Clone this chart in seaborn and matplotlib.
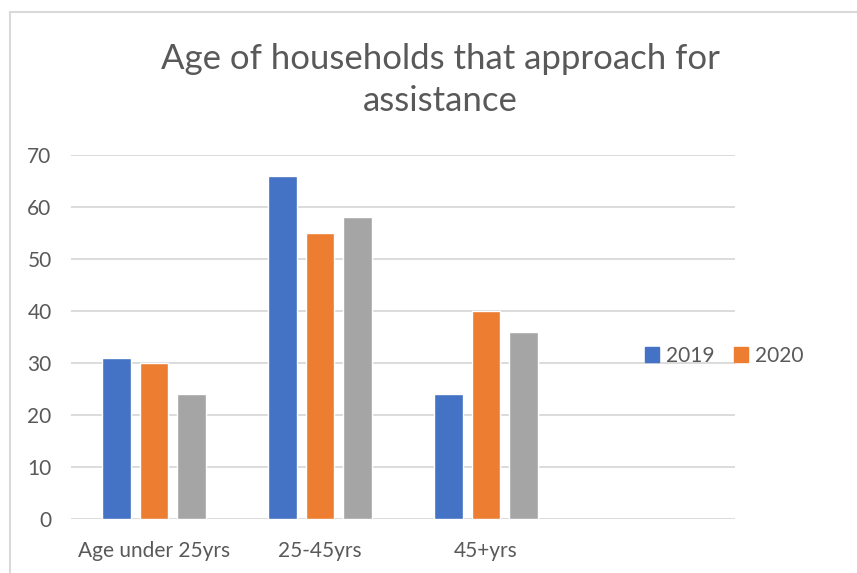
import matplotlib
matplotlib.use("Agg")
import matplotlib.pyplot as plt
import seaborn as sns
import pandas as pd
from matplotlib.lines import Line2D
from matplotlib.patches import Patch

categories = ["Age under 25yrs", "25-45yrs", "45+yrs"]
series_names = ["2019", "2020", "Series3"]
values_2019 = [31, 66, 24]
values_2020 = [30, 55, 40]
values_series3 = [24, 58, 36]
y_ticks = [0, 10, 20, 30, 40, 50, 60, 70]
title = "Age of households that approach for\nassistance"
colors = ["#4472C4", "#ED7D31", "#A5A5A5"]

sns.set_theme(style="white")
plt.rcParams['font.family'] = ['Lato', 'DejaVu Sans']

df = pd.DataFrame({
    "category": categories * 3,
    "series": [series_names[0]] * 3 + [series_names[1]] * 3 + [series_names[2]] * 3,
    "value": values_2019 + values_2020 + values_series3,
})

W, H = 857, 573
fig = plt.figure(figsize=(W / 100, H / 100), dpi=100)
ax = fig.add_axes([71 / W, 1 - 519 / H, 664 / W, 364 / H])

sns.barplot(data=df, x="category", y="value", hue="series", order=categories,
            hue_order=series_names, palette=colors, width=0.67, gap=0.22,
            saturation=1, legend=False, ax=ax, errorbar=None)

ax.set_xlim(-0.5, 3.5)
ax.set_ylim(0, 70)
ax.set_yticks(y_ticks)
ax.set_yticklabels([str(t) for t in y_ticks])
ax.set_xlabel("")
ax.set_ylabel("")
ax.yaxis.grid(True, color="#d9d9d9", linewidth=1.3)
ax.set_axisbelow(True)
for s in ax.spines.values():
    s.set_visible(False)
ax.tick_params(axis="y", length=0, pad=14, labelsize=15, labelcolor="#595959")
ax.tick_params(axis="x", length=0, pad=16, labelsize=15, labelcolor="#595959")

handles = [Patch(color=colors[0]), Patch(color=colors[1])]
fig.legend(handles=handles, labels=series_names[:2], loc="center",
           bbox_to_anchor=(724 / W, 1 - 356 / H), ncol=2, frameon=False,
           handlelength=0.7, handleheight=0.7, handletextpad=0.3,
           columnspacing=0.95, fontsize=15, labelcolor="#595959")

fig.text(440 / W, 1 - 80 / H, title, ha="center", va="center",
         fontsize=25, color="#595959", linespacing=1.42)

# chart area border (cropped)
fig.add_artist(Line2D([9.5 / W, 9.5 / W], [0, 1 - 11.5 / H], color="#d9d9d9", lw=1.5))
fig.add_artist(Line2D([9.5 / W, 1], [1 - 11.5 / H, 1 - 11.5 / H], color="#d9d9d9", lw=1.5))

fig.savefig("out.png", dpi=100)
